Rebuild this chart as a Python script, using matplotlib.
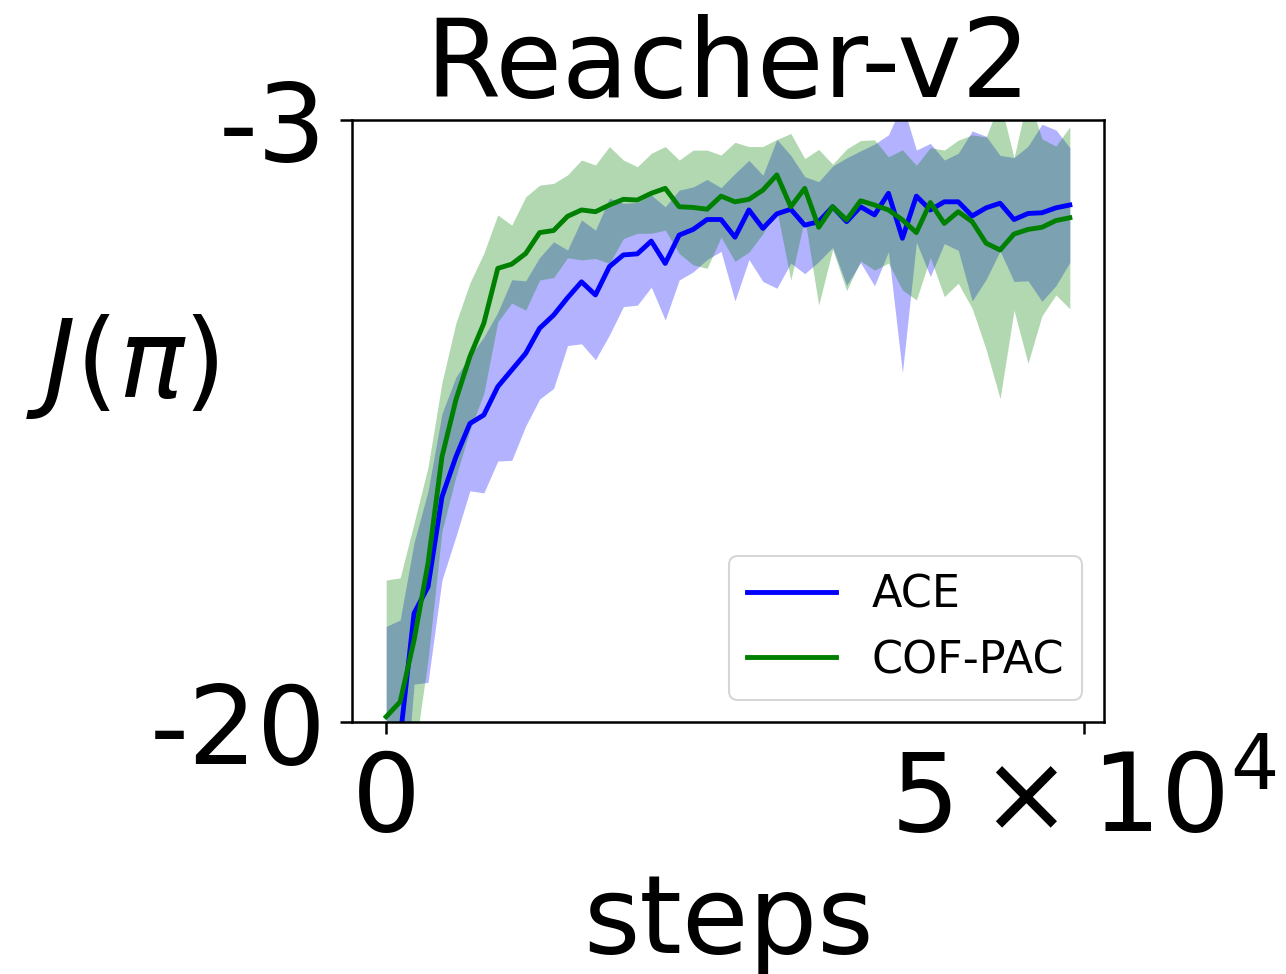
import numpy as np
import matplotlib
matplotlib.use("Agg")
import matplotlib.pyplot as plt

# evaluation steps (every 1000 env steps)
steps = np.arange(0, 50000, 1000)

ace_mean = [-22.5, -20.46, -16.93, -16.18, -13.64, -12.51, -11.57, -11.33, -10.53, -10.06,
            -9.59, -8.88, -8.51, -8.02, -7.57, -7.94, -7.14, -6.81, -6.78, -6.42,
            -7.05, -6.25, -6.09, -5.81, -5.81, -6.31, -5.54, -6.06, -5.65, -5.52,
            -5.97, -5.87, -5.45, -5.87, -5.45, -5.68, -5.07, -6.34, -5.15, -5.54,
            -5.31, -5.31, -5.71, -5.48, -5.35, -5.81, -5.64, -5.62, -5.48, -5.40]
ace_std = [5.2, 3.34, 2.0, 2.7, 2.35, 2.25, 1.9, 2.2, 2.1, 2.55,
           2.05, 2.0, 2.07, 1.35, 1.75, 1.83, 1.93, 1.46, 1.45, 1.3,
           1.6, 1.27, 1.2, 1.13, 0.9, 1.8, 1.4, 1.5, 2.1, 1.52,
           1.37, 1.13, 1.15, 1.8, 1.58, 2.0, 1.65, 3.8, 1.3, 1.88,
           1.18, 1.37, 2.4, 2.02, 1.35, 1.75, 1.9, 2.5, 2.2, 1.62]

cof_mean = [-19.85, -19.43, -17.69, -15.52, -12.51, -10.9, -9.68, -8.74, -7.19, -7.07,
            -6.77, -6.18, -6.12, -5.72, -5.54, -5.59, -5.40, -5.24, -5.26, -5.07,
            -4.93, -5.45, -5.47, -5.52, -5.15, -5.31, -5.24, -4.98, -4.55, -5.45,
            -4.93, -6.03, -5.45, -5.82, -5.28, -5.40, -5.54, -5.82, -6.18, -5.33,
            -5.92, -5.59, -5.87, -6.48, -6.67, -6.22, -6.09, -6.03, -5.84, -5.76]
cof_std = [3.86, 3.5, 3.31, 2.72, 2.1, 2.17, 2.08, 1.98, 1.51, 1.10,
           1.6, 1.34, 1.33, 1.17, 1.41, 1.32, 1.65, 1.11, 0.94, 1.13,
           1.18, 1.32, 1.62, 1.67, 1.16, 1.68, 1.49, 1.23, 1.0, 2.07,
           0.84, 2.2, 1.2, 2.0, 1.7, 1.84, 1.5, 1.98, 1.9, 1.55,
           2.07, 2.02, 2.45, 3.0, 4.2, 2.15, 3.78, 2.5, 2.1, 2.57]

labels = ["ACE", "COF-PAC"]
colors = ["b", "g"]

FS = 78

fig = plt.figure(figsize=(12.86, 9.74), dpi=100)
ax = fig.add_axes([0.2737, 0.2587, 0.5848, 0.6181])

series = [(ace_mean, ace_std), (cof_mean, cof_std)]
for (m, s), c in zip(series, colors):
    m = np.array(m)
    s = np.array(s)
    ax.fill_between(steps, m - s, m + s, color=c, alpha=0.3, linewidth=0)
for (m, s), c, lab in zip(series, colors, labels):
    ax.plot(steps, m, color=c, linewidth=3.5, label=lab)

ax.set_ylim(-20, -3)
ax.set_yticks([-3, -20])
ax.set_yticklabels(["-3", "-20"])
ax.set_xticks([0, 50000])
ax.set_xticklabels(["0", r"$5\times10^4$"])
ax.tick_params(labelsize=FS, length=8.5, width=1.8, pad=10)
for sp in ax.spines.values():
    sp.set_linewidth(1.8)

ax.set_title("Reacher-v2", fontsize=FS, pad=14)
ax.set_xlabel("steps", fontsize=FS, labelpad=12)
ax.set_ylabel(r"$J(\pi)$", fontsize=FS, rotation=0, va="bottom", ha="center")
ax.yaxis.set_label_coords(-0.306, 0.5)

leg = ax.legend(loc="lower right", fontsize=32)
leg.get_frame().set_linewidth(1.5)

fig.savefig("out.png", dpi=100)
